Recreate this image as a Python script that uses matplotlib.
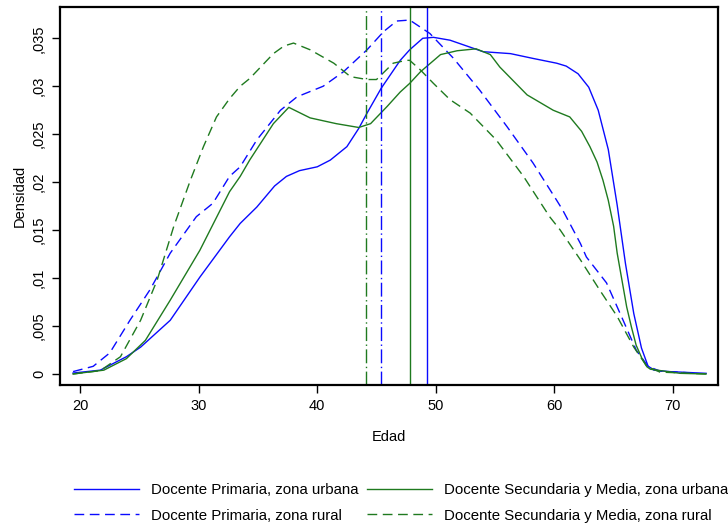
import matplotlib
matplotlib.use("Agg")
import matplotlib.pyplot as plt
from matplotlib.ticker import FixedLocator

plt.rcParams['font.family'] = ['Liberation Sans', 'DejaVu Sans']

# Densidad de edad (y en unidades de 0.001)
# Docente Primaria, zona urbana
pu_x = [19.4, 21.7, 23.9, 25.1, 27.6, 30.1, 32.6, 33.5, 34.9, 36.4, 37.4, 38.5, 40.0,
        41.1, 42.5, 43.5, 44.2, 45.4, 47.0, 47.8, 48.9, 49.8, 51.2, 54.0, 56.3, 58.2,
        60.2, 61.0, 62.0, 62.9, 63.7, 64.55, 65.3, 66.0, 66.7, 67.35, 67.9, 68.4, 69.7,
        72.8]
pu_y = [0.1, 0.4, 1.8, 2.8, 5.6, 10.1, 14.3, 15.7, 17.4, 19.6, 20.6, 21.2, 21.6,
        22.3, 23.7, 25.6, 27.2, 29.8, 32.7, 33.8, 35.0, 35.1, 34.8, 33.6, 33.4, 32.9,
        32.4, 32.1, 31.3, 29.9, 27.5, 23.4, 17.6, 11.5, 6.3, 2.7, 0.83, 0.4, 0.25,
        0.07]

# Docente Primaria, zona rural
pr_x = [19.4, 21.1, 22.5, 24.2, 25.9, 27.6, 29.8, 31.2, 32.6, 33.5, 34.9, 36.9, 38.3,
        40.5, 42.2, 44.2, 45.6, 46.7, 47.8, 49.5, 51.5, 53.7, 56.0, 58.2, 60.2, 60.7,
        62.2, 62.7, 64.4, 65.8, 66.9, 67.9, 68.9, 71.7]
pr_y = [0.25, 0.8, 2.2, 5.6, 8.8, 12.6, 16.4, 17.8, 20.6, 21.6, 24.4, 27.5, 28.9,
        30.0, 31.5, 33.8, 35.7, 36.8, 36.9, 35.5, 32.9, 29.6, 25.8, 22.0, 18.1, 17.1,
        13.6, 12.2, 9.5, 5.6, 2.5, 0.8, 0.3, 0.1]

# Docente Secundaria y Media, zona urbana
su_x = [19.4, 22.0, 23.9, 25.5, 27.6, 30.1, 32.6, 33.5, 34.3, 36.3, 37.6, 39.4, 41.6,
        43.5, 44.5, 45.9, 47.0, 47.8, 48.7, 50.4, 51.8, 53.4, 54.6, 55.4, 57.7, 59.9,
        61.3, 62.3, 63.0, 63.6, 64.1, 64.55, 65.0, 65.3, 65.7, 66.1, 66.5, 66.9, 67.4,
        67.8, 68.1, 70.6, 72.8]
su_y = [0.0, 0.4, 1.6, 3.5, 7.7, 12.9, 19.0, 20.6, 22.3, 26.1, 27.8, 26.7, 26.1,
        25.7, 26.1, 27.9, 29.4, 30.3, 31.5, 33.3, 33.7, 33.9, 33.3, 32.0, 29.1, 27.5,
        26.8, 25.3, 23.7, 22.1, 20.2, 18.1, 15.4, 12.6, 9.8, 7.0, 4.9, 3.0, 1.6,
        0.76, 0.5, 0.07, 0.0]

# Docente Secundaria y Media, zona rural
sr_x = [19.4, 21.7, 23.4, 25.1, 26.5, 27.9, 29.3, 30.4, 31.5, 32.6, 33.5, 34.3, 36.3,
        37.2, 38.0, 39.4, 41.4, 42.8, 44.2, 45.0, 46.4, 47.5, 47.8, 48.7, 49.8, 51.2,
        52.9, 55.1, 57.4, 59.6, 60.5, 62.2, 63.8, 65.3, 66.7, 67.8, 68.9, 72.8]
sr_y = [0.0, 0.35, 1.8, 5.6, 9.8, 15.4, 20.2, 23.7, 26.8, 28.7, 30.0, 30.8, 33.4,
        34.2, 34.5, 33.8, 32.4, 31.0, 30.7, 30.7, 32.4, 32.7, 32.7, 31.7, 30.3, 28.6,
        27.2, 24.4, 20.6, 16.4, 15.0, 11.9, 8.8, 6.0, 2.8, 0.8, 0.2, 0.0]

# Medias de edad (lineas verticales)
mean_pu = 49.3
mean_pr = 45.4
mean_su = 47.8
mean_sr = 44.1

blue = '#0a0aff'
green = '#1f7a1f'
dash = (0, (7, 4))
dashdot = (0, (10, 2.5, 1, 2.5))

labels = ['Docente Primaria, zona urbana', 'Docente Primaria, zona rural',
          'Docente Secundaria y Media, zona urbana', 'Docente Secundaria y Media, zona rural']

yticks = [0, 0.005, 0.01, 0.015, 0.02, 0.025, 0.03, 0.035]
ytick_labels = ['0', ',005', ',01', ',015', ',02', ',025', ',03', ',035']
xticks = [20, 30, 40, 50, 60, 70]

fig = plt.figure(figsize=(7.28, 5.27), dpi=100)
ax = fig.add_axes([0.0824, 0.2694, 0.9038, 0.7173])

def scale(v):
    return [a / 1000 for a in v]

h1, = ax.plot(pu_x, scale(pu_y), color=blue, lw=1.0)
h2, = ax.plot(pr_x, scale(pr_y), color=blue, lw=1.0, linestyle=dash)
h3, = ax.plot(su_x, scale(su_y), color=green, lw=1.0)
h4, = ax.plot(sr_x, scale(sr_y), color=green, lw=1.0, linestyle=dash)

ax.axvline(mean_pu, color=blue, lw=1.0)
ax.axvline(mean_su, color=green, lw=1.0)
ax.axvline(mean_pr, color=blue, lw=1.0, linestyle=dashdot)
ax.axvline(mean_sr, color=green, lw=1.0, linestyle=dashdot)

ax.set_xlim(18.3, 73.8)
ax.set_ylim(-0.00115, 0.03826)

ax.xaxis.set_major_locator(FixedLocator(xticks))
ax.set_yticks(yticks)
ax.set_yticklabels(ytick_labels, rotation=90, va='center')
ax.tick_params(axis='both', direction='out', length=6, width=1, labelsize=10.5,
               color='black', pad=4)

for s in ax.spines.values():
    s.set_linewidth(1.6)

ax.set_xlabel('Edad', fontsize=10.5, labelpad=12)
ax.set_ylabel('Densidad', fontsize=10.5, labelpad=4)

# leyenda bajo el grafico, dos columnas, sin marco
fig.legend([h1, h2, h3, h4], labels, ncol=2, frameon=False, loc='upper left',
           bbox_to_anchor=(0.102, 0.083), bbox_transform=fig.transFigure,
           fontsize=10.8, handlelength=4.3, handletextpad=0.8, columnspacing=0.6,
           labelspacing=0.75, borderpad=0, borderaxespad=0)

fig.savefig('out.png', dpi=100)
